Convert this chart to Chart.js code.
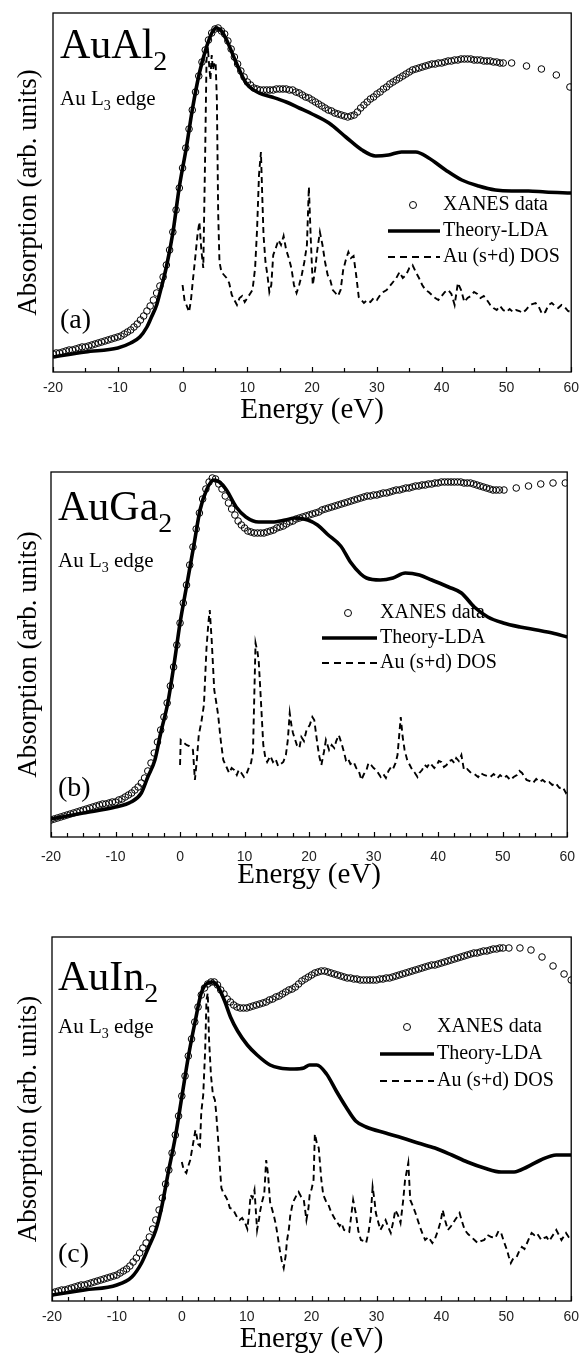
<!DOCTYPE html>
<html><head><meta charset="utf-8">
<script src="https://cdn.jsdelivr.net/npm/chart.js@4/dist/chart.umd.min.js"></script>
<style>
html,body{margin:0;padding:0;background:#fff;}
body{width:587px;height:1357px;position:relative;overflow:hidden;}
canvas{position:absolute;left:0;}
</style></head><body>
<canvas id="ca" width="587" height="428" style="top:0px"></canvas>
<canvas id="cb" width="587" height="465" style="top:428px"></canvas>
<canvas id="cc" width="587" height="464" style="top:893px"></canvas>
<script>
// ---------- DATA (arbitrary units, energy in eV) ----------
const energyGrid = [
-20,-19.5,-19,-18.5,-18,-17.5,-17,-16.5,-16,-15.5,
-15,-14.5,-14,-13.5,-13,-12.5,-12,-11.5,-11,-10.5,
-10,-9.5,-9,-8.5,-8,-7.5,-7,-6.5,-6,-5.5,
-5,-4.5,-4,-3.5,-3,-2.5,-2,-1.5,-1,-0.5,
0,0.5,1,1.5,2,2.5,3,3.5,4,4.5,
5,5.5,6,6.5,7,7.5,8,8.5,9,9.5,
10,10.5,11,11.5,12,12.5,13,13.5,14,14.5,
15,15.5,16,16.5,17,17.5,18,18.5,19,19.5,
20,20.5,21,21.5,22,22.5,23,23.5,24,24.5,
25,25.5,26,26.5,27,27.5,28,28.5,29,29.5,
30,30.5,31,31.5,32,32.5,33,33.5,34,34.5,
35,35.5,36,36.5,37,37.5,38,38.5,39,39.5,
40,40.5,41,41.5,42,42.5,43,43.5,44,44.5,
45,45.5,46,46.5,47,47.5,48,48.5,49,49.5];

// (a) AuAl2
const xanesA = [
18,19,19,20,21,22,22,23,24,25,
25,26,27,28,29,30,31,32,33,34,
35,36,38,40,42,45,48,52,56,61,
66,72,79,86,95,107,122,140,162,184,
204,224,243,262,280,296,310,322,332,339,
343,344,341,338,331,323,315,308,301,295,
290,287,284,283,282,282,282,282,282,283,
283,283,283,282,282,280,279,277,275,274,
272,270,268,266,264,262,261,259,258,257,
256,255,256,257,260,264,267,270,273,275,
278,280,283,285,288,290,292,294,296,298,
300,302,303,304,305,306,307,308,308,309,
309,310,311,311,312,312,313,313,313,313,
312,312,312,311,311,311,310,310,309,309];
const xanesTailEA = [50.8,53.1,55.4,57.7,59.8];
const xanesTailA  = [309,306,303,297,285];
const theoryA = [[-20,15],[-15,20],[-10,24],[-8,29],[-6.6,35],[-5.5,45],[-4.8,55],[-4,67],[-3.5,79],[-2.5,105],[-1.5,139],[-0.5,185],[0.6,225],[1.5,262],[2.6,299],[3.7,325],[4.6,340],[5.2,344],[6,341],[6.8,332],[8.3,309],[9.8,289],[11.8,279],[13.8,275],[16,270],[18,264],[20,258],[22.6,249],[25.2,235],[27.7,222],[29.8,216],[31.8,217],[33.8,220],[36,220],[38,214],[40.6,202],[43.1,192],[45.7,186],[48.3,182],[50.8,181],[53.4,181],[56,180],[60,179]];
const dosA = [[0,87],[0.3,72],[0.6,67],[1.0,60],[1.3,72],[1.6,92],[2.0,117],[2.3,137],[2.6,150],[2.9,122],[3.2,104],[3.5,222],[3.7,312],[3.9,325],[4.1,307],[4.3,292],[4.5,317],[4.7,302],[4.9,309],[5.1,310],[5.3,272],[5.5,159],[5.7,110],[6.0,100],[6.4,97],[6.8,94],[7.2,89],[7.6,77],[8.0,72],[8.4,67],[8.8,74],[9.2,76],[9.6,70],[10.0,74],[10.4,78],[10.8,82],[11.2,104],[11.5,142],[11.8,197],[12.1,220],[12.3,177],[12.5,137],[12.8,110],[13.1,97],[13.4,80],[13.7,87],[14.0,117],[14.4,124],[14.8,132],[15.2,127],[15.6,136],[16.0,122],[16.4,114],[16.8,104],[17.2,87],[17.6,79],[18.0,87],[18.4,97],[18.8,110],[19.2,127],[19.5,185],[19.8,132],[20.1,87],[20.5,104],[20.8,122],[21.2,140],[21.6,127],[22.0,110],[22.4,97],[22.8,92],[23.2,82],[23.6,79],[24.0,76],[24.4,82],[24.8,102],[25.2,112],[25.6,120],[26.0,114],[26.4,116],[26.8,97],[27.2,75],[27.6,72],
[28.0,69],[28.5,72],[29.0,70],[29.5,74],[30.0,72],[30.5,77],[31.0,80],[31.5,82],[32.0,86],[32.5,90],[33.0,94],[33.5,100],[34.0,94],[34.5,97],[35.0,104],[35.5,107],[36.0,100],[36.5,94],[37.0,87],[37.5,82],[38.0,80],[38.5,77],[39.0,74],[39.5,72],[40.0,76],[40.5,80],[41.0,82],[41.5,78],[42.0,67],[42.5,89],[43.0,82],[43.5,70],[44.0,74],[44.5,76],[45.0,80],[45.5,78],[46.0,74],[46.5,76],[47.0,72],[47.5,67],[48.0,64],[48.5,62],[49.0,66],[49.5,62],[50.0,60],[50.5,63],[51.0,60],[51.5,62],[52.0,61],[52.5,59],[53.0,62],[53.5,66],[54.0,68],[54.5,69],[55.0,65],[55.5,58],[56.0,60],[56.5,67],[57.0,69],[57.5,66],[58.0,64],[58.5,67],[59.0,65],[59.5,61],[60.0,60]];

// (b) AuGa2
const xanesB = [
17,18,19,20,21,22,23,24,25,26,
27,28,29,30,31,32,33,33,34,35,
35,37,38,40,42,44,47,50,54,59,
66,74,84,95,107,120,134,151,170,192,
214,234,252,272,290,308,324,338,348,355,
359,358,353,348,341,334,328,322,316,312,
309,306,305,304,304,304,304,305,306,307,
309,310,311,313,315,316,318,319,320,321,
322,323,324,325,327,328,329,330,331,332,
333,334,335,336,337,338,339,340,341,341,
342,342,343,344,344,345,346,347,347,348,
349,349,350,351,351,352,352,353,353,354,
354,355,355,355,355,355,355,355,354,354,
354,353,352,351,350,349,348,347,347,347];
const xanesTailEB = [50.2,52.1,54.0,55.9,57.8,59.7];
const xanesTailB  = [347,349,351,353,354,354];
const theoryB = [[-20,18],[-15,24],[-10,30],[-7.6,35],[-6,44],[-5,60],[-3.9,77],[-3,104],[-1.9,134],[-0.9,174],[0,214],[1.1,254],[2.2,294],[3.1,327],[4.1,347],[5.2,357],[6.1,355],[7.2,347],[8.7,330],[10.2,320],[12.2,315],[14.3,315],[16.3,317],[17.8,319],[19.8,317],[21.3,312],[22.8,303],[24.9,291],[26.4,275],[28,263],[28.9,259],[31,257],[33,259],[34.9,264],[37.1,262],[39,257],[41.6,250],[43.6,244],[45.6,230],[47.7,220],[50.1,214],[52.7,210],[55.3,207],[57.7,204],[60,200]];
const dosB = [[0,72],[0.1,97],[0.6,94],[1.0,92],[1.4,91],[2.0,87],[2.3,57],[2.6,77],[2.9,102],[3.3,115],[3.7,132],[4.1,189],[4.4,215],[4.6,227],[4.9,197],[5.3,147],[5.6,135],[5.9,122],[6.3,97],[6.7,77],[7.2,70],[7.6,64],[8.0,69],[8.4,67],[8.8,62],[9.1,67],[9.5,64],[9.9,60],[10.3,63],[10.7,70],[11.0,74],[11.3,85],[11.5,140],[11.7,194],[12.0,185],[12.2,175],[12.5,140],[12.9,92],[13.2,80],[13.5,75],[14.0,81],[14.4,75],[14.8,78],[15.2,71],[15.6,73],[16.0,75],[16.4,82],[16.7,97],[17.0,124],[17.3,110],[17.5,104],[18.1,92],[18.5,89],[18.8,100],[19.2,96],[19.6,107],[20.1,112],[20.5,120],[20.8,117],[21.3,92],[21.6,80],[21.9,72],[22.3,85],[22.6,97],[23.1,87],[23.5,92],[23.9,89],[24.2,96],[24.6,102],[25.1,92],[25.4,85],[25.7,77],[26.0,79],[26.4,73],[26.9,75],[27.3,69],[27.7,66],[28.1,57],[28.5,63],[28.9,67],[29.2,74],[29.6,72],[30.0,69],[30.4,67],[30.8,63],[31.1,60],[31.5,63],[31.9,59],[32.3,66],[32.7,70],[33.0,68],[33.4,74],[33.7,82],[33.9,97],[34.2,120],[34.5,100],[34.8,87],[35.2,77],[35.6,72],[36.0,67],[36.4,64],[36.8,60],[37.1,64],[37.5,67],[37.9,72],[38.3,70],[38.7,74],[39.0,72],[39.4,69],[39.8,72],[40.1,76],[40.5,75],[40.9,70],[41.3,72],[41.7,76],[42.1,77],[42.5,74],[42.8,79],[43.2,76],[43.6,82],[44.0,67],[44.5,68],[45.1,64],[45.6,63],[46.2,60],[46.6,64],[47.1,62],[47.6,61],[48.1,60],[48.6,63],[49.2,59],[49.6,62],[50.1,59],[50.6,61],[51.2,57],[51.7,60],[52.2,62],[52.6,66],[53.0,64],[53.4,60],[53.7,57],[54.2,56],[54.7,54],[55.2,58],[55.7,55],[56.2,57],[56.8,54],[57.2,55],[57.7,52],[58.2,54],[58.8,49],[59.3,50],[59.8,44],[60,46]];

// (c) AuIn2
const xanesC = [
8,9,10,11,11,12,13,14,15,16,
16,17,18,19,20,21,22,23,24,25,
26,28,30,32,35,39,43,48,53,58,
64,72,81,91,103,117,131,148,166,185,
205,225,245,262,279,294,306,313,317,319,
319,316,311,307,302,299,296,294,293,293,
293,294,295,296,297,298,299,301,302,304,
305,307,309,311,312,314,317,320,322,324,
326,328,329,330,330,329,328,327,326,325,
324,323,323,322,322,321,321,321,321,321,
321,322,322,323,323,324,325,326,327,328,
329,330,331,332,333,334,335,336,336,337,
338,339,340,341,342,343,344,345,346,347,
348,348,349,350,350,351,352,352,353,353];
const xanesTailEC = [50.4,52.1,53.8,55.5,57.2,58.9,60.0];
const xanesTailC  = [353,353,351,344,335,327,321];
const theoryC = [[-20,6],[-15,11],[-10,16],[-7.7,24],[-6.2,38],[-5.1,54],[-4,71],[-3.1,94],[-2.1,128],[-1,164],[0,204],[1,244],[2.1,281],[3,308],[4,318],[4.8,319],[5.6,314],[6.6,300],[7.5,284],[8.6,270],[10.1,256],[11.6,246],[13.6,236],[15.1,233],[17.3,232],[18.8,233],[19.7,236],[20.8,236],[22.3,227],[23.8,210],[25.3,194],[26.8,180],[28.4,174],[31.4,168],[34,163],[36.4,158],[39,153],[41.6,146],[44,139],[46.6,133],[49.2,129],[51.2,129],[53.2,134],[55.3,141],[57.7,146],[60,146]];
const dosC = [[0.0,139],[0.3,131],[0.7,128],[1.0,135],[1.3,141],[1.7,156],[2.1,171],[2.3,165],[2.5,157],[2.8,155],[3.0,189],[3.3,206],[3.6,251],[3.8,301],[4.0,308],[4.2,261],[4.5,225],[4.8,206],[5.1,201],[5.3,188],[5.6,161],[5.9,131],[6.1,113],[6.4,108],[6.8,104],[7.1,100],[7.4,93],[7.8,92],[8.1,89],[8.5,84],[8.9,81],[9.3,83],[9.7,79],[10.1,72],[10.4,90],[10.6,106],[10.9,103],[11.2,111],[11.6,71],[11.9,82],[12.1,91],[12.4,100],[12.7,107],[13.0,141],[13.3,126],[13.6,99],[13.9,92],[14.2,85],[14.5,76],[14.7,68],[15.1,51],[15.4,40],[15.7,33],[16.0,45],[16.2,60],[16.5,72],[16.7,85],[17.0,95],[17.3,101],[17.7,106],[18.0,109],[18.4,104],[18.8,101],[19.2,81],[19.5,92],[19.7,106],[20.0,112],[20.3,121],[20.5,167],[20.8,158],[21.1,153],[21.5,121],[21.8,106],[22.2,100],[22.6,96],[23.0,89],[23.5,83],[23.9,79],[24.3,75],[24.6,78],[25.0,71],[25.4,70],[25.8,69],[26.1,85],[26.4,101],[26.8,88],[27.2,70],[27.6,61],[28.0,60],[28.4,58],[28.8,70],[29.1,84],[29.4,114],[29.7,100],[29.9,88],[30.3,78],[30.6,71],[31.0,76],[31.4,81],[31.8,74],[32.2,68],[32.6,80],[32.9,91],[33.3,86],[33.7,78],[34.1,100],[34.4,121],[34.9,138],[35.2,101],[35.6,95],[36.0,88],[36.4,80],[36.7,74],[37.1,67],[37.5,61],[38.0,64],[38.6,58],[39.0,62],[39.5,71],[39.9,80],[40.2,91],[40.6,80],[41.0,71],[41.5,75],[42.1,81],[42.5,85],[42.8,88],[43.2,79],[43.6,71],[44.1,67],[44.6,64],[45.1,61],[45.6,58],[46.1,60],[46.6,61],[47.1,66],[47.7,64],[48.3,63],[48.8,70],[49.2,68],[49.6,60],[50.1,51],[50.4,44],[50.7,38],[51.1,43],[51.6,44],[52.0,50],[52.4,54],[52.8,52],[53.2,58],[53.6,64],[53.9,68],[54.3,66],[54.7,68],[55.0,65],[55.4,61],[55.8,63],[56.2,64],[56.6,60],[57.0,64],[57.4,68],[57.7,71],[58.1,66],[58.5,61],[58.9,65],[59.2,68],[59.6,64],[60.0,61]];

const seriesNames = ['XANES data', 'Theory-LDA', 'Au (s+d) DOS'];
const xTickValues = [-20, -10, 0, 10, 20, 30, 40, 50, 60];

// ---------- DRAWING ----------
const SERIF = '"Liberation Serif", "Times New Roman", serif';
const SANS = '"Liberation Sans", Arial, sans-serif';

function drawSub(ctx, x, y, main, sub, mainFont, subFont, dy) {
  ctx.font = mainFont; ctx.fillText(main, x, y);
  const w = ctx.measureText(main).width;
  ctx.font = subFont; ctx.fillText(sub, x + w, y + dy);
  return x + w + ctx.measureText(sub).width;
}

const decor = {
  id: 'decor',
  afterDraw(chart) {
    const P = chart.options.plugins.decor;
    const ctx = chart.ctx, ca = chart.chartArea, xs = chart.scales.x;
    const T = P.top;
    ctx.save();
    ctx.strokeStyle = '#000'; ctx.lineWidth = 1.3; ctx.setLineDash([]);
    ctx.strokeRect(ca.left, ca.top, ca.right - ca.left, ca.bottom - ca.top);
    ctx.lineWidth = 1.2;
    for (let v = -20; v <= 60.001; v += P.minor) {
      const px = Math.round(xs.getPixelForValue(v)) + 0.5;
      const major = Math.abs(v / 10 - Math.round(v / 10)) < 1e-6;
      ctx.beginPath(); ctx.moveTo(px, ca.bottom); ctx.lineTo(px, ca.bottom - (major ? 5 : 4)); ctx.stroke();
    }
    ctx.fillStyle = '#000'; ctx.textAlign = 'left'; ctx.textBaseline = 'alphabetic';
    drawSub(ctx, P.nameX, P.nameY - T, P.name, '2', '42px ' + SERIF, '28px ' + SERIF, 12);
    let x2 = drawSub(ctx, P.nameX, P.edgeY - T, 'Au L', '3', '21px ' + SERIF, '14px ' + SERIF, 5);
    ctx.font = '21px ' + SERIF; ctx.fillText(' edge', x2, P.edgeY - T);
    ctx.font = '28px ' + SERIF; ctx.fillText(P.letter, P.nameX, P.letterY - T);
    const L = P.legend;
    ctx.font = '20px ' + SERIF; ctx.textBaseline = 'middle';
    ctx.lineWidth = 1;
    ctx.beginPath(); ctx.arc(L.cx, L.y[0] - T, 3.5, 0, Math.PI * 2); ctx.stroke();
    ctx.fillText(seriesNames[0], L.tx, L.y[0] - T);
    ctx.lineWidth = 3.5;
    ctx.beginPath(); ctx.moveTo(L.l0, L.y[1] - T); ctx.lineTo(L.l1, L.y[1] - T); ctx.stroke();
    ctx.fillText(seriesNames[1], L.tx, L.y[1] - T);
    ctx.lineWidth = 1.8; ctx.setLineDash([7, 5]);
    ctx.beginPath(); ctx.moveTo(L.l0, L.y[2] - T); ctx.lineTo(L.l1, L.y[2] - T); ctx.stroke();
    ctx.setLineDash([]);
    ctx.fillText(seriesNames[2], L.tx, L.y[2] - T);
    ctx.restore();
  }
};

function makePanel(id, xanesVals, tailE, tailV, theory, dos, P) {
  const xanesPts = energyGrid.map((e, i) => ({x: e, y: xanesVals[i]}))
    .concat(tailE.map((e, i) => ({x: e, y: tailV[i]})));
  new Chart(document.getElementById(id), {
    type: 'line',
    data: { datasets: [
      { label: seriesNames[0], data: xanesPts, showLine: false, pointRadius: 3.3, pointBorderWidth: 1,
        pointBorderColor: '#000', pointBackgroundColor: 'rgba(0,0,0,0)', pointStyle: 'circle', order: 1 },
      { label: seriesNames[1], data: theory.map(p => ({x: p[0], y: p[1]})), borderColor: '#000', borderWidth: 3.6,
        pointRadius: 0, cubicInterpolationMode: 'monotone', fill: false, order: 2 },
      { label: seriesNames[2], data: dos.map(p => ({x: p[0], y: p[1]})), borderColor: '#000', borderWidth: 1.9,
        borderDash: [6, 4], pointRadius: 0, tension: 0, fill: false, order: 3 }
    ]},
    options: {
      responsive: false, animation: false, devicePixelRatio: 1,
      layout: { padding: { top: P.padTop, right: P.padRight, left: 0, bottom: 0 } },
      plugins: { legend: { display: false }, tooltip: { enabled: false }, decor: P },
      scales: {
        x: { type: 'linear', min: -20, max: 60, position: 'bottom',
             afterBuildTicks(s) { s.ticks = xTickValues.map(v => ({value: v})); },
             ticks: { color: '#222', font: { family: SANS, size: 14 }, padding: P.tickPad, maxRotation: 0, autoSkip: false },
             grid: { display: false, drawTicks: false }, border: { display: false },
             title: { display: true, text: 'Energy (eV)', color: '#000', font: { family: SERIF, size: 29 }, padding: { top: 0, bottom: 0 } },
             afterFit(s) { s.height = P.xH; } },
        y: { type: 'linear', min: 0, max: P.yMax,
             ticks: { display: false }, grid: { display: false, drawTicks: false }, border: { display: false },
             title: { display: true, text: 'Absorption (arb. units)', color: '#000', font: { family: SERIF, size: 27 }, padding: { top: 13, bottom: 0 } },
             afterFit(s) { s.width = P.yW; } }
      }
    },
    plugins: [decor]
  });
}

makePanel('ca', xanesA, xanesTailEA, xanesTailA, theoryA, dosA, {
  top: 0, padTop: 13, padRight: 14, yW: 53, xH: 56, yMax: 359, tickPad: 8, minor: 5,
  name: 'AuAl', nameX: 60, nameY: 58, edgeY: 105, letter: '(a)', letterY: 328,
  legend: { cx: 413, tx: 443, l0: 388, l1: 440, y: [205, 231, 257] } });
makePanel('cb', xanesB, xanesTailEB, xanesTailB, theoryB, dosB, {
  top: 428, padTop: 44, padRight: 9, yW: 51, xH: 56, yMax: 365, tickPad: 12, minor: 2.5,
  name: 'AuGa', nameX: 58, nameY: 520, edgeY: 567, letter: '(b)', letterY: 796,
  legend: { cx: 348, tx: 380, l0: 322, l1: 377, y: [613, 638, 663] } });
makePanel('cc', xanesC, xanesTailEC, xanesTailC, theoryC, dosC, {
  top: 893, padTop: 44, padRight: 9, yW: 52, xH: 56, yMax: 364, tickPad: 8, minor: 2.5,
  name: 'AuIn', nameX: 58, nameY: 990, edgeY: 1033, letter: '(c)', letterY: 1262,
  legend: { cx: 407, tx: 437, l0: 380, l1: 434, y: [1027, 1054, 1081] } });
</script>
</body></html>
